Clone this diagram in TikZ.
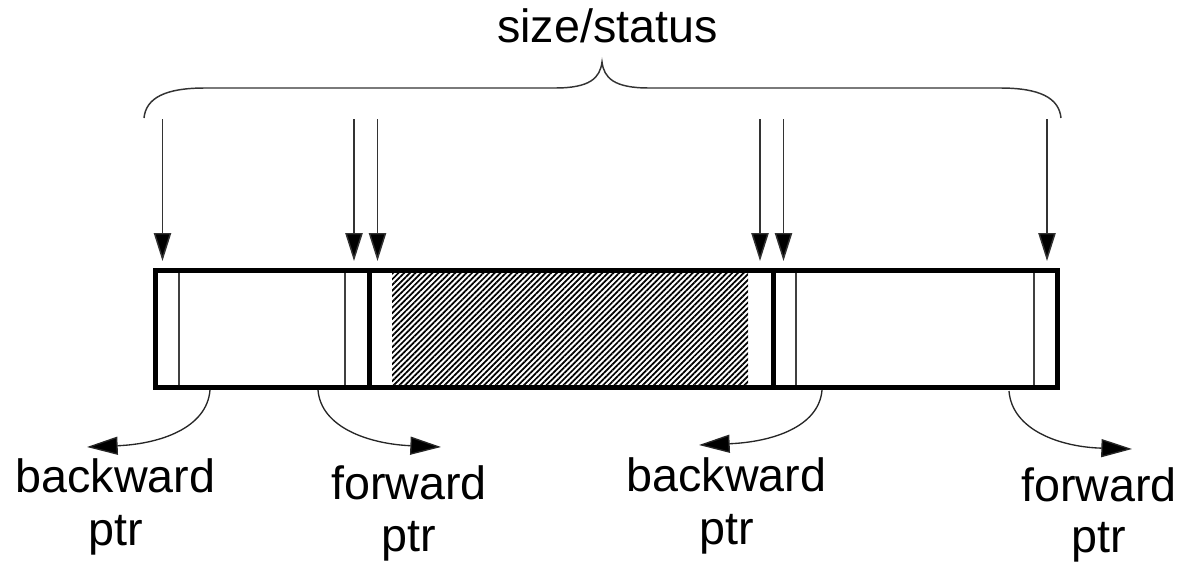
\documentclass[tikz,border=0pt]{standalone}
\usepackage{fontspec}
\setmainfont{Liberation Sans}
\usetikzlibrary{arrows.meta,patterns.meta}
\begin{document}
\begin{tikzpicture}[x=0.75pt,y=-0.75pt,
  lbl/.style={font=\fontsize{35}{40}\selectfont, inner sep=0pt, anchor=base},
  border/.style={line width=3.75pt},
  thinline/.style={line width=1pt, draw=black!75},
  downarrow/.style={line width=1.1pt, draw=black!80, -{Triangle[length=21pt,width=13pt,fill=black]}},
  ptrarrow/.style={line width=1pt, draw=black!85, -{Triangle[length=23pt,width=13.5pt,fill=black]}},
  bracestyle/.style={line width=1.1pt, draw=black!80}]
\useasboundingbox (0,0) rectangle (1184,564);

% hatched payload of the allocated block
\fill[pattern={Lines[angle=45,distance=3pt,line width=1.3pt]}] (392,272) rectangle (748,385);

% thin header/footer separators
\draw[thinline] (179,272) -- (179,385);
\draw[thinline] (345,272) -- (345,385);
\draw[thinline] (796,272) -- (796,385);
\draw[thinline] (1034,272) -- (1034,385);

% outer box and block dividers
\draw[border] (155,270) rectangle (1057.5,387);
\draw[border] (369,270) -- (369,387);
\draw[border] (773,270) -- (773,387);

% brace
\draw[bracestyle] (144,118) .. controls (146,98) and (165,88) .. (205,88) -- (555,88)
  .. controls (590,88) and (600,78) .. (602,62)
  .. controls (604,78) and (614,88) .. (649,88) -- (1000,88)
  .. controls (1040,88) and (1059,98) .. (1061,118);
\node[lbl] (size) at (607.5,42) {size/status};

% down arrows
\foreach \n/\x in {a/162.5,b/354,c/377.5,d/760,e/783.5,f/1047}{
  \coordinate (top\n) at (\x,119);
  \coordinate (hdr\n) at (\x,261);
  \draw[downarrow] (top\n) -- (hdr\n);
}

% pointer labels
\node[lbl] (bw1) at (115.5,492) {backward};
\node[lbl] (bw1p) at (115.5,545) {ptr};
\node[lbl] (fw1) at (409,499) {forward};
\node[lbl] (fw1p) at (409,551) {ptr};
\node[lbl] (bw2) at (726.5,491) {backward};
\node[lbl] (bw2p) at (726.5,544) {ptr};
\node[lbl] (fw2) at (1099,501) {forward};
\node[lbl] (fw2p) at (1099,552) {ptr};

% pointer arrows
\coordinate (s1) at (210,390);   \coordinate (t1) at (87,447);
\coordinate (s2) at (318,390);   \coordinate (t2) at (441,447);
\coordinate (s3) at (822,390);   \coordinate (t3) at (699,445);
\coordinate (s4) at (1009,391);  \coordinate (t4) at (1132,449);
\draw[ptrarrow] (s1) .. controls (207,428) and (160,444) .. (t1);
\draw[ptrarrow] (s2) .. controls (321,428) and (370,444) .. (t2);
\draw[ptrarrow] (s3) .. controls (819,427) and (772,442) .. (t3);
\draw[ptrarrow] (s4) .. controls (1012,430) and (1060,447) .. (t4);
\end{tikzpicture}
\end{document}
